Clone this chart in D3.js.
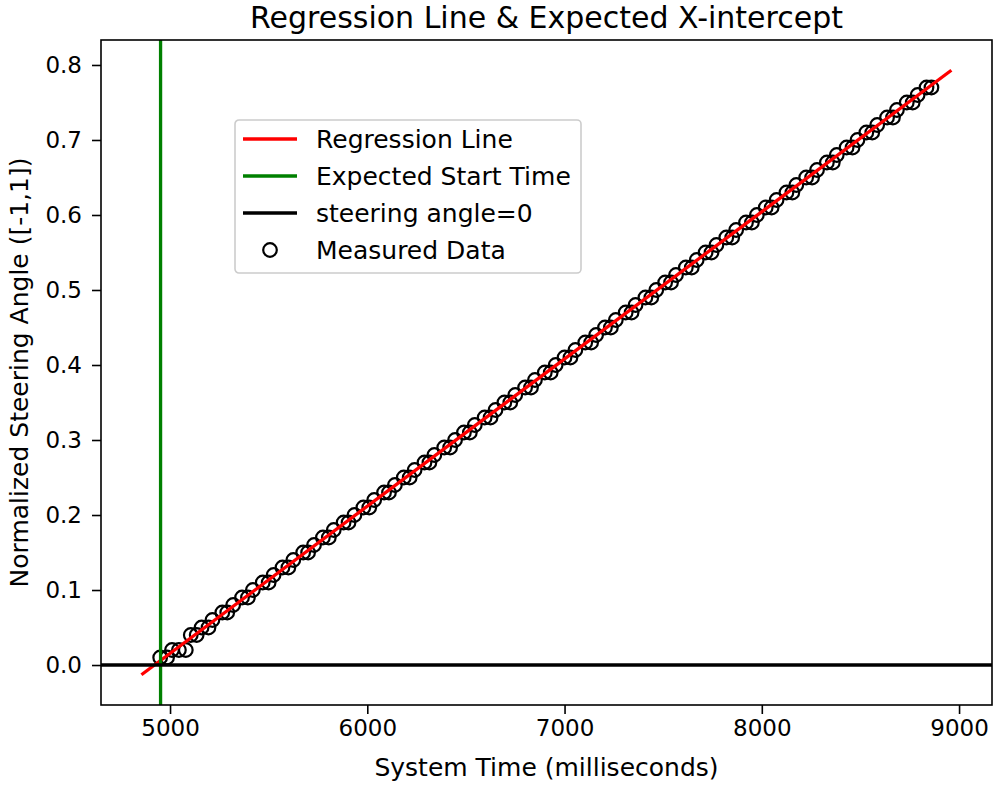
<!DOCTYPE html>
<html>
<head>
<meta charset="utf-8">
<script src="https://cdn.jsdelivr.net/npm/d3@7"></script>
<style>
  body { margin: 0; background: #fff; }
  text { font-family: "DejaVu Sans", sans-serif; fill: #000; }
</style>
</head>
<body>
<svg id="drawing_region"></svg>
<script>
// measured samples (time in ms, normalized steering angle)
const times = [
  4950, 4985, 5010, 5045, 5080, 5105, 5135, 5160, 5195, 5215, 5265, 5290,
  5320, 5365, 5395, 5420, 5470, 5500, 5525, 5570, 5600, 5625, 5675, 5700,
  5730, 5775, 5805, 5830, 5880, 5905, 5935, 5980, 6010, 6035, 6085, 6110,
  6140, 6185, 6215, 6240, 6290, 6315, 6340, 6390, 6420, 6445, 6490, 6520,
  6545, 6595, 6625, 6650, 6695, 6725, 6750, 6800, 6830, 6850, 6900, 6930,
  6955, 7000, 7030, 7055, 7105, 7135, 7160, 7205, 7235, 7260, 7310, 7340,
  7360, 7410, 7440, 7465, 7510, 7540, 7565, 7615, 7645, 7670, 7715, 7745,
  7770, 7820, 7850, 7870, 7920, 7950, 7975, 8020, 8050, 8075, 8125, 8155,
  8175, 8225, 8255, 8280, 8330, 8360, 8380, 8430, 8460, 8485, 8530, 8560,
  8585, 8635, 8665, 8685, 8735, 8765, 8790, 8835, 8860
];
const angles = [
  0.01, 0.01, 0.02, 0.02, 0.02, 0.04, 0.04, 0.05, 0.05, 0.06, 0.07, 0.07,
  0.08, 0.09, 0.09, 0.10, 0.11, 0.11, 0.12, 0.13, 0.13, 0.14, 0.15, 0.15,
  0.16, 0.17, 0.17, 0.18, 0.19, 0.19, 0.20, 0.21, 0.21, 0.22, 0.23, 0.23,
  0.24, 0.25, 0.25, 0.26, 0.27, 0.27, 0.28, 0.29, 0.29, 0.30, 0.31, 0.31,
  0.32, 0.33, 0.33, 0.34, 0.35, 0.35, 0.36, 0.37, 0.37, 0.38, 0.39, 0.39,
  0.40, 0.41, 0.41, 0.42, 0.43, 0.43, 0.44, 0.45, 0.45, 0.46, 0.47, 0.47,
  0.48, 0.49, 0.49, 0.50, 0.51, 0.51, 0.52, 0.53, 0.53, 0.54, 0.55, 0.55,
  0.56, 0.57, 0.57, 0.58, 0.59, 0.59, 0.60, 0.61, 0.61, 0.62, 0.63, 0.63,
  0.64, 0.65, 0.65, 0.66, 0.67, 0.67, 0.68, 0.69, 0.69, 0.70, 0.71, 0.71,
  0.72, 0.73, 0.73, 0.74, 0.75, 0.75, 0.76, 0.77, 0.77
];

// regression line end points and expected start time
const regression = [ {x: 4855, y: -0.013}, {x: 8961, y: 0.793} ];
const startTime = 4952;
const zeroAngle = 0;

const xticks = [5000, 6000, 7000, 8000, 9000];
const yticks = [0.0, 0.1, 0.2, 0.3, 0.4, 0.5, 0.6, 0.7, 0.8];

const legendItems = [
    {label: 'Regression Line', color: '#ff0000', type: 'line'},
    {label: 'Expected Start Time', color: '#008000', type: 'line'},
    {label: 'steering angle=0', color: '#000000', type: 'line'},
    {label: 'Measured Data', color: '#000000', type: 'marker'}
];

const config = {
    width: 993,
    height: 785,
    margin: {top: 40, right: 1, bottom: 80, left: 101}
};

const data = times.map( (t, i) => ({x: t, y: angles[i]}) );

const svg = d3.select('#drawing_region')
    .attr('width', config.width)
    .attr('height', config.height);

const inner_width = config.width - config.margin.left - config.margin.right;
const inner_height = config.height - config.margin.top - config.margin.bottom;

const chart = svg.append('g')
    .attr('transform', `translate(${config.margin.left}, ${config.margin.top})`);

const xscale = d3.scaleLinear()
    .domain([4650, 9167])
    .range([0, inner_width]);

const yscale = d3.scaleLinear()
    .domain([-0.0533, 0.8333])
    .range([inner_height, 0]);

chart.append('defs').append('clipPath')
    .attr('id', 'clip')
    .append('rect')
    .attr('width', inner_width)
    .attr('height', inner_height);

const plot = chart.append('g').attr('clip-path', 'url(#clip)');

// measured data
plot.selectAll('circle').data(data)
    .enter()
    .append('circle')
    .attr('cx', d => xscale(d.x))
    .attr('cy', d => yscale(d.y))
    .attr('r', 6.8)
    .attr('fill', 'none')
    .attr('stroke', '#000')
    .attr('stroke-width', 2.2);

const line = d3.line()
    .x( d => xscale(d.x) )
    .y( d => yscale(d.y) );

plot.append('path')
    .attr('d', line(regression))
    .attr('stroke', '#ff0000')
    .attr('stroke-width', 3.3)
    .attr('fill', 'none');

plot.append('line')
    .attr('x1', xscale(startTime)).attr('x2', xscale(startTime))
    .attr('y1', 0).attr('y2', inner_height)
    .attr('stroke', '#008000')
    .attr('stroke-width', 3.3);

plot.append('line')
    .attr('x1', 0).attr('x2', inner_width)
    .attr('y1', yscale(zeroAngle)).attr('y2', yscale(zeroAngle))
    .attr('stroke', '#000')
    .attr('stroke-width', 3.3);

// axes
const xaxis = d3.axisBottom(xscale)
    .tickValues(xticks)
    .tickSize(9)
    .tickPadding(6)
    .tickSizeOuter(0)
    .tickFormat(d3.format('d'));

const yaxis = d3.axisLeft(yscale)
    .tickValues(yticks)
    .tickSize(9)
    .tickPadding(10)
    .tickSizeOuter(0)
    .tickFormat(d3.format('.1f'));

const xaxis_group = chart.append('g')
    .attr('transform', `translate(0, ${inner_height})`)
    .call(xaxis);

const yaxis_group = chart.append('g')
    .call(yaxis);

[xaxis_group, yaxis_group].forEach( g => {
    g.select('.domain').remove();
    g.selectAll('.tick line').attr('stroke', '#000').attr('stroke-width', 1.6);
    g.selectAll('.tick text')
        .attr('font-family', '"DejaVu Sans", sans-serif')
        .attr('font-size', '23px')
        .attr('fill', '#000');
});

chart.append('rect')
    .attr('width', inner_width)
    .attr('height', inner_height)
    .attr('fill', 'none')
    .attr('stroke', '#000')
    .attr('stroke-width', 1.6);

// labels
svg.append('text')
    .attr('x', config.margin.left + inner_width / 2)
    .attr('y', 28)
    .attr('text-anchor', 'middle')
    .attr('font-size', '30px')
    .text('Regression Line & Expected X-intercept');

svg.append('text')
    .attr('x', config.margin.left + inner_width / 2)
    .attr('y', 776)
    .attr('text-anchor', 'middle')
    .attr('font-size', '25px')
    .text('System Time (milliseconds)');

svg.append('text')
    .attr('transform', `translate(28, ${config.margin.top + inner_height / 2}) rotate(-90)`)
    .attr('text-anchor', 'middle')
    .attr('font-size', '25px')
    .text('Normalized Steering Angle ([-1,1])');

// legend
const legend = svg.append('g')
    .attr('transform', 'translate(235, 120)');

legend.append('rect')
    .attr('width', 346)
    .attr('height', 153)
    .attr('rx', 4)
    .attr('fill', '#fff')
    .attr('fill-opacity', 0.8)
    .attr('stroke', '#cccccc')
    .attr('stroke-width', 1.6);

const rows = legend.selectAll('.item').data(legendItems)
    .enter()
    .append('g')
    .attr('class', 'item')
    .attr('transform', (d, i) => `translate(0, ${19 + i * 37})`);

rows.filter(d => d.type === 'line')
    .append('line')
    .attr('x1', 8).attr('x2', 62)
    .attr('stroke', d => d.color)
    .attr('stroke-width', 3.3);

rows.filter(d => d.type === 'marker')
    .append('circle')
    .attr('cx', 35)
    .attr('r', 6.8)
    .attr('fill', 'none')
    .attr('stroke', d => d.color)
    .attr('stroke-width', 2.2);

rows.append('text')
    .attr('x', 81)
    .attr('dy', '0.36em')
    .attr('font-size', '25px')
    .text(d => d.label);
</script>
</body>
</html>
